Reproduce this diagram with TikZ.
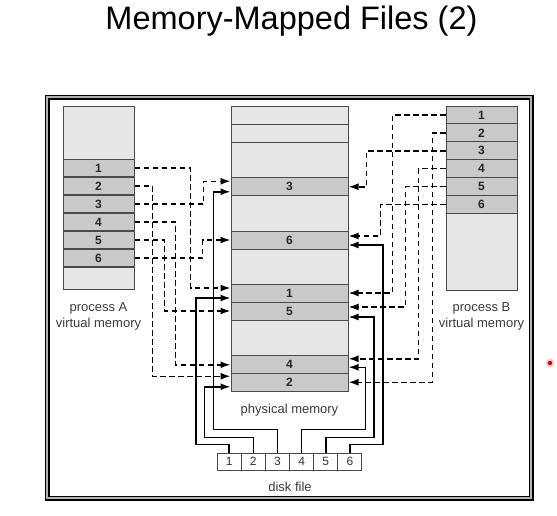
\documentclass[tikz,border=0pt]{standalone}
\usepackage{fontspec}
\setmainfont{Liberation Sans}
\usetikzlibrary{arrows.meta}
\definecolor{pagelight}{HTML}{E6E6E6}
\definecolor{pagedark}{HTML}{C9C9C9}
\definecolor{pageline}{HTML}{4A4A4A}
\definecolor{labelgray}{HTML}{3A3A3A}

\begin{document}
\begin{tikzpicture}[x=1pt, y=-1pt,
		cell/.style={draw=pageline, line width=1pt, inner sep=0pt, fill=pagedark, minimum width=71pt, minimum height=17.9pt, text=black!85, font=\fontsize{12}{13}\selectfont\bfseries},
		emptycell/.style={cell, fill=pagelight},
		frame/.style={cell, minimum width=117pt, minimum height=17.6pt},
		emptyframe/.style={frame, fill=pagelight},
		block/.style={draw=pageline, line width=1pt, fill=white, inner sep=0pt, minimum width=24.17pt, minimum height=17pt, text=black!80, font=\fontsize{12}{13}\selectfont},
		caption/.style={text=labelgray, align=center, font=\fontsize{13}{16}\selectfont},
		maparrow/.style={line width=1.5pt, dash pattern=on 5.5pt off 3.5pt, -{Latex[length=10pt,width=7pt]}},
		filearrow/.style={line width=1.5pt, -{Latex[length=10pt,width=7pt]}}]
	\useasboundingbox (0,0) rectangle (557,515);
	
	% title and outer frame
	\node[anchor=base, font=\fontsize{32.5}{38}\selectfont] (title) at (291.5,29) {Memory-Mapped Files (2)};
	\draw[line width=1.3pt, double=gray!60, double distance=2.4pt] (47.2,97.2) rectangle (531,498);
	
	% process A
	\draw
	(98.5,132.5) node[emptycell, minimum height=53pt](atop){}
	(98.5,168) node[cell](a1){1} (98.5,186) node[cell](a2){2} (98.5,204) node[cell](a3){3}
	(98.5,222) node[cell](a4){4} (98.5,240) node[cell](a5){5} (98.5,258) node[cell](a6){6}
	(98.5,278) node[emptycell, minimum height=22pt](abot){};
	\node[caption] (labA) at (98.5,316) {process A\\virtual memory};
	
	% process B
	\draw
	(481.5,114.95) node[cell](b1){1} (481.5,132.85) node[cell](b2){2} (481.5,150.75) node[cell](b3){3}
	(481.5,168.65) node[cell](b4){4} (481.5,186.55) node[cell](b5){5} (481.5,204.45) node[cell](b6){6}
	(481.5,251.7) node[emptycell, minimum height=76.6pt](bbot){};
	\node[caption] (labB) at (481.5,316) {process B\\virtual memory};
	
	% physical memory
	\draw
	(289.5,115) node[emptyframe, minimum height=18pt](pe1){}
	(289.5,133) node[emptyframe, minimum height=18pt](pe2){}
	(289.5,160) node[emptyframe, minimum height=36pt](pe3){}
	(289.5,186.75) node[frame](p3){3}
	(289.5,213.25) node[emptyframe, minimum height=35.5pt](pe4){}
	(289.5,240) node[frame, minimum height=18pt](p6){6}
	(289.5,266.5) node[emptyframe, minimum height=35pt](pe5){}
	(289.5,293) node[frame, minimum height=18pt](p1){1}
	(289.5,311) node[frame, minimum height=18pt](p5){5}
	(289.5,338) node[emptyframe, minimum height=36pt](pe6){}
	(289.5,364.75) node[frame](p4){4}
	(289.5,382.25) node[frame](p2){2};
	\node[caption, anchor=base] (labP) at (289.5,413) {physical memory};
	
	% disk file
	\draw
	(229.1,461.5) node[block](d1){1} (253.25,461.5) node[block](d2){2} (277.4,461.5) node[block](d3){3}
	(301.6,461.5) node[block](d4){4} (325.75,461.5) node[block](d5){5} (349.9,461.5) node[block](d6){6};
	\node[caption, anchor=base] (labD) at (290,491) {disk file};
	
	% process A mappings
	\draw[maparrow] (a1.east) -- ++(56,0) |- ([yshift=5pt]p1.west);
	\draw[maparrow] (a2.east) -- ++(18,0) |- ([yshift=6pt]p2.west);
	\draw[maparrow] (a3.east) -- ++(69,0) |- ([yshift=5.5pt]p3.west);
	\draw[maparrow] (a4.east) -- ++(41,0) |- (p4.west);
	\draw[maparrow] (a5.east) -- ++(30,0) |- (p5.west);
	\draw[maparrow] (a6.east) -- ++(68,0) |- (p6.west);
	
	% process B mappings
	\draw[maparrow] (b1.west) -- ++(-53,0) |- (p1.east);
	\draw[maparrow] (b2.west) -- ++(-13,0) |- (p2.east);
	\draw[maparrow] (b3.west) -- ++(-79,0) |- (p3.east);
	\draw[maparrow] (b4.west) -- ++(-27,0) |- ([yshift=6pt]p4.east);
	\draw[maparrow] (b5.west) -- ++(-40,0) |- ([yshift=4pt]p5.east);
	\draw[maparrow] (b6.west) -- ++(-65,0) |- ([yshift=4pt]p6.east);
	
	% disk blocks
	\draw[filearrow] (d1.north) -- ++(0,-8) -- ++(-33,0) |- ([yshift=-5pt]p1.west);
	\draw[filearrow] (d2.north) -- ++(0,-15) -- ++(-49,0) |- ([yshift=-4.5pt]p2.west);
	\draw[filearrow] (d3.north) -- ++(0,-23) -- ++(-64,0) |- ([yshift=-5pt]p3.west);
	\draw[filearrow] (d4.north) -- ++(0,-23) -- ++(64,0) |- ([yshift=-2.5pt]p4.east);
	\draw[filearrow] (d5.north) -- ++(0,-15) -- ++(48,0) |- ([yshift=-6pt]p5.east);
	\draw[filearrow] (d6.north) -- ++(0,-8) -- ++(33,0) |- ([yshift=-5pt]p6.east);
	
	% pointer dot
	\fill[red!20] (550,363) circle (4.5);
	\fill[red!85!black] (550,363) circle (2.2);
\end{tikzpicture}
\end{document}
